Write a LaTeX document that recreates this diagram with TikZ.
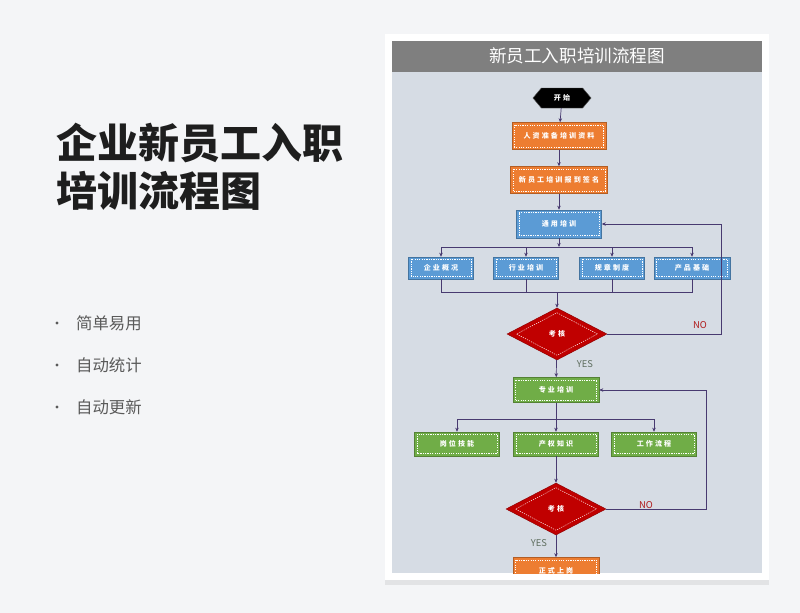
\documentclass[tikz,border=0pt]{standalone}
\usepackage{fontspec}
\setmainfont{Noto Sans CJK SC}
\newfontfamily\boxfont[LetterSpace=30]{Noto Sans CJK SC}
\usetikzlibrary{arrows.meta, positioning, shapes.geometric, shapes.symbols, shadows}
\definecolor{BG}{RGB}{244,245,247}
\definecolor{PB}{RGB}{214,220,228}
\definecolor{TB}{RGB}{127,127,127}
\definecolor{OR}{RGB}{237,125,49}
\definecolor{BL}{RGB}{91,155,213}
\definecolor{GR}{RGB}{112,173,71}
\definecolor{RD}{RGB}{192,0,0}
\definecolor{LN}{RGB}{72,58,112}
\definecolor{TX}{RGB}{30,30,30}
\definecolor{GT}{RGB}{90,90,90}
\definecolor{YS}{RGB}{95,110,95}
\definecolor{NR}{RGB}{175,25,25}

\begin{document}
\begin{tikzpicture}[
  x=0.03cm, y=-0.03cm,
  box/.style={draw=#1!75!black, fill=#1, inner sep=0pt,
              minimum height=0.81cm, text=white,
              font=\boxfont\fontsize{6}{7}\selectfont\bfseries,
              path picture={\draw[white, line width=0.4pt, dash pattern=on 1pt off 1pt]
                ([shift={(2pt,2pt)}]path picture bounding box.south west) rectangle
                ([shift={(-2pt,-2pt)}]path picture bounding box.north east);}},
  exam/.style={diamond, draw=RD!75!black, fill=RD, inner sep=0pt,
               minimum width=3cm, minimum height=1.56cm, text=white,
               font=\boxfont\fontsize{6}{7}\selectfont\bfseries,
               path picture={\draw[white, line width=0.4pt, dash pattern=on 1pt off 1pt]
                 ([yshift=-4pt]path picture bounding box.north) --
                 ([xshift=-8pt]path picture bounding box.east) --
                 ([yshift=4pt]path picture bounding box.south) --
                 ([xshift=8pt]path picture bounding box.west) -- cycle;}},
  startnode/.style={signal, signal to=east and west, signal pointer angle=100,
                    fill=black, draw=black!70, inner sep=0pt, text=white,
                    minimum width=1.74cm, minimum height=0.6cm,
                    font=\boxfont\fontsize{6}{7}\selectfont\bfseries},
  link/.style={draw=LN, line width=0.6pt},
  conn/.style={link, -{Stealth[length=3.5pt, width=3pt]}},
  yes/.style={font=\fontsize{8}{9}\selectfont, text=YS},
  no/.style={font=\fontsize{8}{9}\selectfont, text=NR}
]
% Page
\fill[BG] (0,0) rectangle (800,613);
\useasboundingbox (0,0) rectangle (800,613);

% Left text
\node[anchor=west, text=TX, font=\fontsize{35}{40}\selectfont\bfseries] (head1) at (52,143) {企业新员工入职};
\node[anchor=west, text=TX, font=\fontsize{35}{40}\selectfont\bfseries] (head2) at (52,191) {培训流程图};
\foreach \t/\yy [count=\i] in {简单易用/323, 自动统计/365, 自动更新/407}{
  \fill[GT] (57,\yy) circle (1.4pt);
  \node[anchor=west, text=GT, font=\fontsize{14}{16}\selectfont] (item\i) at (72,\yy) {\t};
}

% Card
\fill[white, drop shadow={opacity=0.15, shadow xshift=0pt, shadow yshift=-4pt}] (385,34) rectangle (769,580);
\fill[TB] (392,41) rectangle (762,72);
\node[text=white, font=\fontsize{15}{17}\selectfont] (ttl) at (577,56) {新员工入职培训流程图};
\fill[PB] (392,72) rectangle (762,573);

\begin{scope}
\clip (392,72) rectangle (762,573);
% Main column
\node[startnode] (start) at (562,98) {开始};
\node[box=OR, minimum width=2.82cm] (prep) at (559,136) {人资准备培训资料};
\node[box=OR, minimum width=2.91cm] (sign) at (559,180) {新员工培训报到签名};
\node[box=BL, minimum width=2.55cm, minimum height=0.84cm] (gen) at (559,224) {通用培训};

% General training
\node[box=BL, minimum width=1.95cm, minimum height=0.66cm] (gen1) at (441,268) {企业概况};
\node[box=BL, minimum width=1.95cm, minimum height=0.66cm] (gen2) at (526,268) {行业培训};
\node[box=BL, minimum width=1.95cm, minimum height=0.66cm] (gen3) at (612,268) {规章制度};
\node[box=BL, minimum width=2.28cm, minimum height=0.66cm] (gen4) at (692,268) {产品基础};
\coordinate (split1) at (559,247);
\coordinate (merge1) at (557,292);

\node[exam] (exam1) at (557,334) {考核};
\coordinate (back1) at (721,224);

% Professional training
\node[box=GR, minimum width=2.58cm, minimum height=0.75cm] (pro) at (556,390) {专业培训};
\node[box=GR, minimum width=2.55cm, minimum height=0.72cm] (pro1) at (457,444) {岗位技能};
\node[box=GR, minimum width=2.55cm, minimum height=0.72cm] (pro2) at (556,444) {产权知识};
\node[box=GR, minimum width=2.55cm, minimum height=0.72cm] (pro3) at (654,444) {工作流程};
\coordinate (split2) at (556,419);

\node[exam] (exam2) at (556,509) {考核};
\coordinate (back2) at (706,390);
\node[box=OR, minimum width=2.58cm] (final) at (556,571) {正式上岗};

% Connections
\draw[conn] (start) -- (prep);
\draw[conn] (prep) -- (sign);
\draw[conn] (sign) -- (gen);
\draw[conn] (gen) -- (split1);
\foreach \n in {gen1,gen2,gen3,gen4}
  \draw[conn] (split1) -| (\n.north);
\foreach \n in {gen1,gen2,gen3,gen4}
  \draw[link] (\n.south) |- (merge1);
\draw[conn] (merge1) -- (exam1);
\draw[conn] (exam1.east) -| (back1) -- (gen.east);
\draw[conn] (exam1) -- (pro);
\draw[link] (pro) -- (split2);
\foreach \n in {pro1,pro2,pro3}
  \draw[conn] (split2) -| (\n.north);
\draw[conn] (pro2) -- (exam2);
\draw[conn] (exam2.east) -| (back2) -- (pro.east);
\draw[conn] (exam2) -- (final);

% Labels
\node[no] (no1) at (700,325) {NO};
\node[yes] (yes1) at (585,364) {YES};
\node[no] (no2) at (646,505) {NO};
\node[yes] (yes2) at (539,543) {YES};
\end{scope}
\end{tikzpicture}
\end{document}
